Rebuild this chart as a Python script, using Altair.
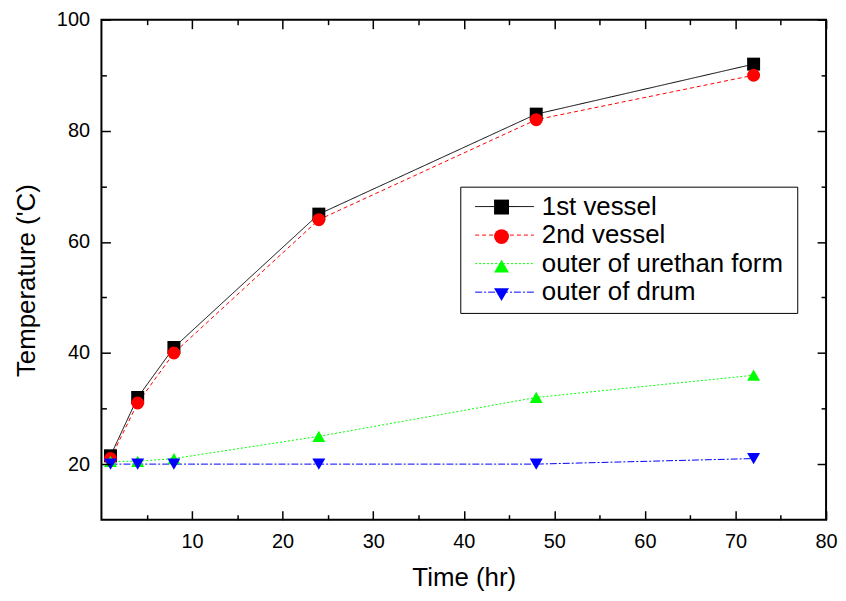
import altair as alt
import pandas as pd

# ---- data ----
time_hr = [1, 4, 8, 24, 48, 72]
series_names = ["1st vessel", "2nd vessel", "outer of urethan form", "outer of drum"]
vessel1 = [21.5, 32, 41, 65, 83, 92]
vessel2 = [21, 31, 40, 64, 82, 90]
urethan = [20.5, 20.5, 21, 25, 32, 36]
drum = [20, 20, 20, 20, 20, 21]

colors = ["#000000", "#ff0000", "#00ff00", "#0000ff"]
shapes = ["square", "circle", "triangle-up", "triangle-down"]
dashes = [[1, 0], [4, 3], [2, 2], [7, 2, 2, 2]]

x_major = [10, 20, 30, 40, 50, 60, 70, 80]
x_minor = [5, 15, 25, 35, 45, 55, 65, 75]
y_major = [20, 40, 60, 80, 100]
y_minor = [30, 50, 70, 90]

codes = [f"s{i}" for i in range(len(series_names))]
rows = []
for i, vals in enumerate([vessel1, vessel2, urethan, drum]):
    for t, v in zip(time_hr, vals):
        rows.append({"time": t, "temp": v, "series": series_names[i], "code": codes[i]})
df = pd.DataFrame(rows)

FONT = "Liberation Sans"
xscale = alt.Scale(domain=[0, 80], nice=False, zero=False)
yscale = alt.Scale(domain=[10, 100], nice=False, zero=False)


def label_axis(orient, values, title, tpad, **extra):
    return alt.Axis(
        orient=orient, values=values, ticks=False, domain=False, grid=False,
        labelFlush=False, labelOverlap=False, labelFont=FONT,
        labelFontSize=20, labelColor="black", labelPadding=12,
        title=title, titleFont=FONT, titleFontSize=26, titleColor="black",
        titleFontWeight="normal", titlePadding=tpad, **extra)


def tick_axis(orient, values, size):
    return alt.Axis(
        orient=orient, values=values, ticks=True, tickSize={"expr": str(-size)},
        tickColor="black", tickWidth=1.5, labels=False, domain=False,
        grid=False, title=None, zindex=1)


base = alt.Chart(df)

leg_lines = alt.Legend(
    orient="none", legendX=361, legendY=168, direction="vertical", title=None,
    strokeColor="black", fillColor="white", padding=7,
    labelFont=FONT, labelFontSize=26, labelColor="black", labelLimit=400,
    labelOffset=49, rowPadding=2.7, symbolType="M-0.556,0H6M34.4,0",
    symbolSize=324, symbolStrokeWidth=1)

leg_marks = alt.Legend(
    orient="none", legendX=395, legendY=181, direction="vertical", title=None,
    padding=0, labelFont=FONT, labelFontSize=1, labelExpr="''",
    labelLimit=400, labelOffset=0, rowPadding=14.7, symbolSize=225,
    symbolStrokeWidth=0, symbolOpacity=1)

lines = base.mark_line(strokeWidth=1).encode(
    x=alt.X("time:Q", scale=xscale, axis=label_axis("bottom", x_major, "Time (hr)", 13)),
    y=alt.Y("temp:Q", scale=yscale,
            axis=label_axis("left", y_major, "Temperature ('C)", 17, titleY=262)),
    stroke=alt.Stroke("series:N", scale=alt.Scale(domain=series_names, range=colors), legend=leg_lines),
    strokeDash=alt.StrokeDash("series:N", scale=alt.Scale(domain=series_names, range=dashes), legend=leg_lines),
)

points = base.mark_point(filled=True, size=170, opacity=1, strokeWidth=0).encode(
    x=alt.X("time:Q", scale=xscale, axis=tick_axis("top", x_major, 9)),
    y=alt.Y("temp:Q", scale=yscale, axis=tick_axis("right", y_major, 9)),
    fill=alt.Fill("code:N", scale=alt.Scale(domain=codes, range=colors), legend=leg_marks),
    shape=alt.Shape("code:N", scale=alt.Scale(domain=codes, range=shapes), legend=leg_marks),
)


def ghost(xo, xv, xs, yo, yv, ys):
    return base.mark_point(opacity=0).encode(
        x=alt.X("time:Q", scale=xscale, axis=tick_axis(xo, xv, xs)),
        y=alt.Y("temp:Q", scale=yscale, axis=tick_axis(yo, yv, ys)),
    )


chart = alt.layer(
    lines, points,
    ghost("bottom", x_major, 9, "left", y_major, 9),
    ghost("bottom", x_minor, 5, "left", y_minor, 5),
    ghost("top", x_minor, 5, "right", y_minor, 5),
).resolve_axis(
    x="independent", y="independent"
).properties(
    width=729, height=503,
    padding={"left": 5, "top": 0, "right": 0, "bottom": 0},
    background="white",
).configure_view(stroke="black", strokeWidth=2)

chart.save("out.html", embed_options={"renderer": "svg", "actions": False})
